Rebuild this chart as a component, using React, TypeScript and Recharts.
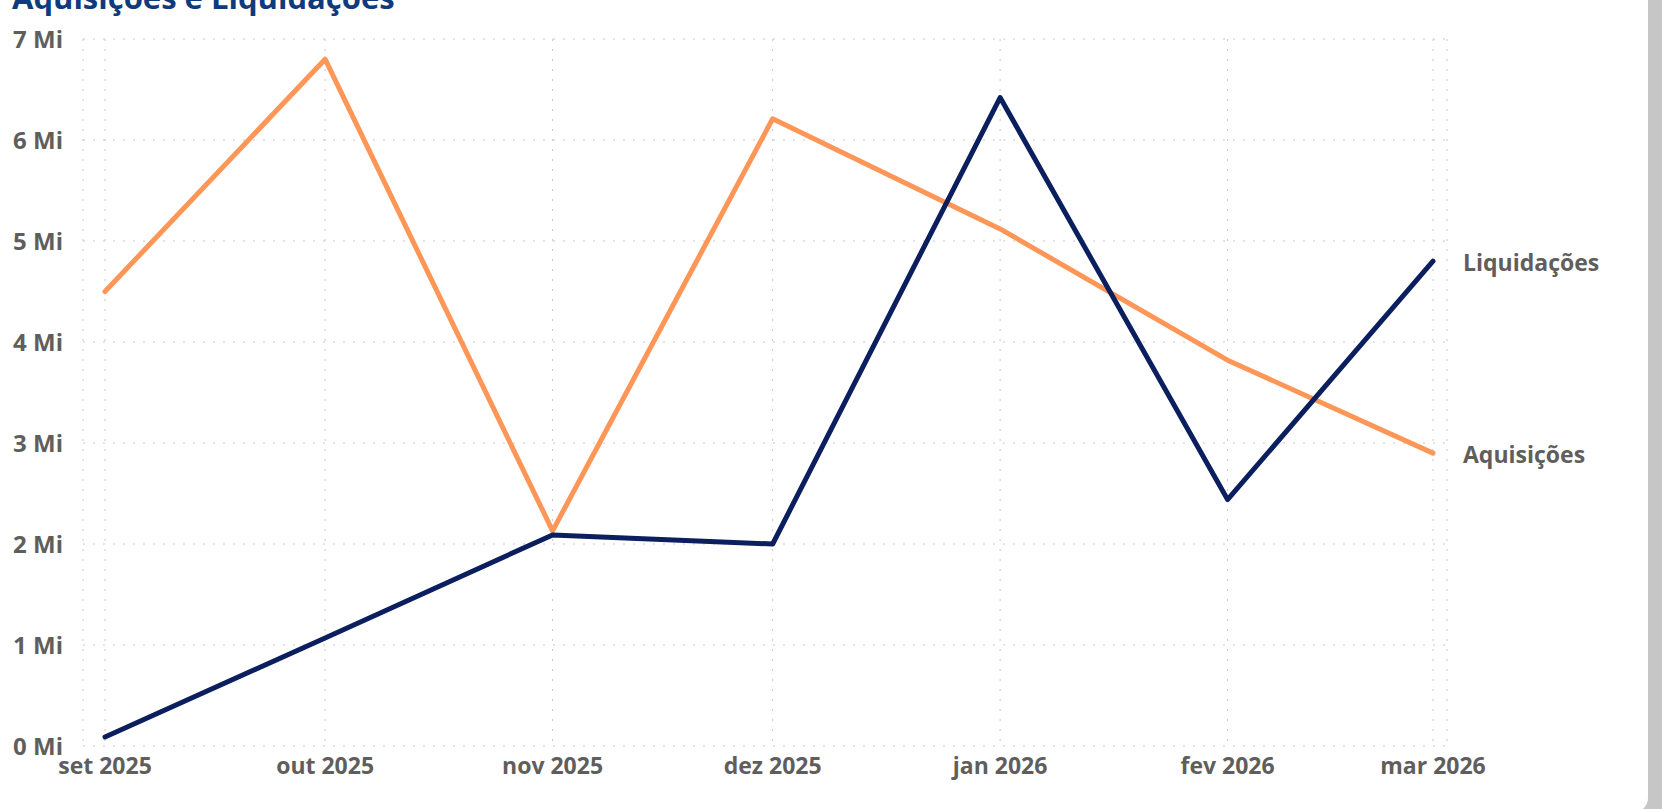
import { LineChart, Line, XAxis, YAxis, CartesianGrid } from "recharts";

// eixo de tempo contínuo: dias desde 1 set 2025
const months = ["set 2025", "out 2025", "nov 2025", "dez 2025", "jan 2026", "fev 2026", "mar 2026"];
const dayOffsets = [0, 30, 61, 91, 122, 153, 181];
const aquisicoes = [4.5, 6.8, 2.13, 6.21, 5.12, 3.82, 2.9];
const liquidacoes = [0.09, 1.07, 2.09, 2.0, 6.42, 2.44, 4.8];
const yTicks = [0, 1, 2, 3, 4, 5, 6, 7];

const data = months.map((m, i) => ({
    dia: dayOffsets[i],
    mes: m,
    aquisicoes: aquisicoes[i],
    liquidacoes: liquidacoes[i],
}));

const FONT = "'Open Sans', sans-serif";
const GREY = "#605E5C";

const monthLabel = (v: number) => months[dayOffsets.indexOf(v)] ?? "";

const endLabel = (name: string) => (props: any) => {
    const { x, y, index } = props;
    if (index !== months.length - 1) return null;
    return (
        <text
            x={x + 30}
            y={y + 2}
            dy="0.355em"
            fill={GREY}
            fontFamily={FONT}
            fontWeight={700}
            fontSize={23}
        >
            {name}
        </text>
    );
};

export default function App() {
    return (
        <div
            style={{
                position: "fixed",
                left: 0,
                top: 0,
                width: 1662,
                height: 809,
                background: "#C6C6C6",
                overflow: "hidden",
            }}
        >
            <div
                style={{
                    position: "absolute",
                    left: -20,
                    top: -20,
                    width: 1668,
                    height: 832,
                    background: "#fff",
                    borderRadius: 14,
                }}
            />
            <svg style={{ position: "absolute", left: 0, top: 0 }} width={600} height={30}>
                <text x={12} y={9} fill="#0F3B7D" fontFamily={FONT} fontWeight={700} fontSize={31}>
                    Aquisições e Liquidações
                </text>
            </svg>
            <div style={{ position: "absolute", left: 0, top: 0 }}>
                <LineChart
                    width={1662}
                    height={809}
                    data={data}
                    margin={{ top: 39, right: 215, bottom: 23, left: 0 }}
                >
                    <CartesianGrid stroke="#C8C8C8" strokeDasharray="2 8" />
                    <XAxis
                        dataKey="dia"
                        type="number"
                        domain={[0, 181]}
                        ticks={dayOffsets}
                        tickFormatter={monthLabel}
                        axisLine={false}
                        tickLine={false}
                        height={40}
                        padding={{ left: 22, right: 14 }}
                        tickMargin={6}
                        interval={0}
                        tick={{ fill: GREY, fontFamily: FONT, fontWeight: 700, fontSize: 23 }}
                    />
                    <YAxis
                        domain={[0, 7]}
                        ticks={yTicks}
                        width={83}
                        axisLine={false}
                        tickLine={false}
                        tickMargin={14}
                        tickFormatter={(v: number) => `${v} Mi`}
                        tick={{ fill: GREY, fontFamily: FONT, fontWeight: 700, fontSize: 24 }}
                    />
                    <Line
                        dataKey="aquisicoes"
                        stroke="#FD9656"
                        strokeWidth={5}
                        dot={false}
                        strokeLinecap="round"
                        strokeLinejoin="round"
                        isAnimationActive={false}
                        label={endLabel("Aquisições")}
                    />
                    <Line
                        dataKey="liquidacoes"
                        stroke="#0B1E5E"
                        strokeWidth={5}
                        dot={false}
                        strokeLinecap="round"
                        strokeLinejoin="round"
                        isAnimationActive={false}
                        label={endLabel("Liquidações")}
                    />
                </LineChart>
            </div>
        </div>
    );
}
